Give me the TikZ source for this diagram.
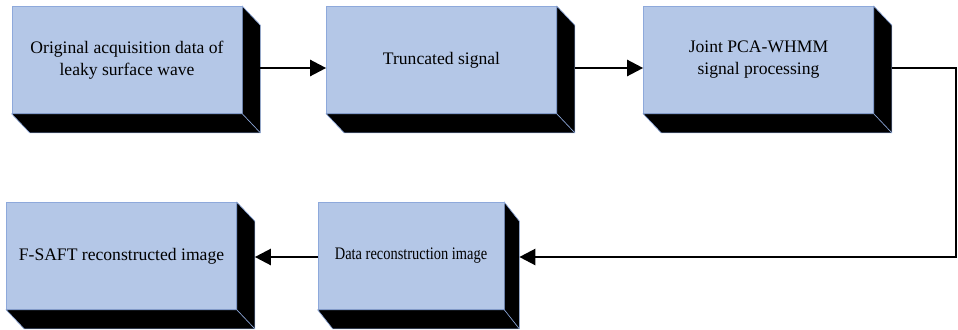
\documentclass[tikz,border=0pt]{standalone}
\usepackage{fontspec}
\setmainfont{Liberation Serif}
\usepackage{tikz}
\usetikzlibrary{arrows.meta,positioning,calc}
\definecolor{facefill}{HTML}{B4C7E7}
\definecolor{faceedge}{HTML}{8EA9DB}

\begin{document}
\begin{tikzpicture}[
  x=0.75pt, y=-0.75pt,
  block/.style={draw=faceedge, fill=facefill, line width=0.5pt, minimum width=172.5pt, minimum height=80.25pt, align=center, inner sep=4pt, font=\fontsize{13.2}{16.5}\selectfont},
  link/.style={line width=1.8pt, -{Triangle[length=12pt,width=12pt]}},
]
\useasboundingbox (0,0) rectangle (958,329);
\node[block] (orig) at (127,60) {Original acquisition data of\\leaky surface wave};
\node[block] (trunc) at (441.5,60) {Truncated signal};
\node[block] (joint) at (758.5,60) {Joint PCA-WHMM\\signal processing};
\node[block] (fsaft) at (121.5,256) {F-SAFT reconstructed image};
\node[block, minimum width=139.5pt] (recon) at (411,256) {\scalebox{0.82}[1]{Data reconstruction image}};
% extruded sides
\foreach \b/\dx in {orig/18,trunc/18,joint/18,fsaft/18,recon/15}{
  \filldraw[fill=black, draw=faceedge, line width=0.5pt] (\b.north east) -- ++(\dx,19) -- ($(\b.south east)+(\dx,19)$) -- ($(\b.south west)+(\dx,19)$) -- (\b.south west) -- (\b.south east) -- cycle;
  \draw[faceedge, line width=0.5pt] (\b.south east) -- ++(\dx,19);
}
\coordinate (turn) at (956,68);
\draw[link] ($(orig.east)+(18,8)$) -- (trunc.west |- 0,68);
\draw[link] ($(trunc.east)+(18,8)$) -- (joint.west |- 0,68);
\draw[link] ($(joint.east)+(18,8)$) -- (turn) |- ($(recon.east)+(15,1)$);
\draw[link] (recon.west |- 0,257) -- ($(fsaft.east)+(18,1)$);
\end{tikzpicture}
\end{document}
